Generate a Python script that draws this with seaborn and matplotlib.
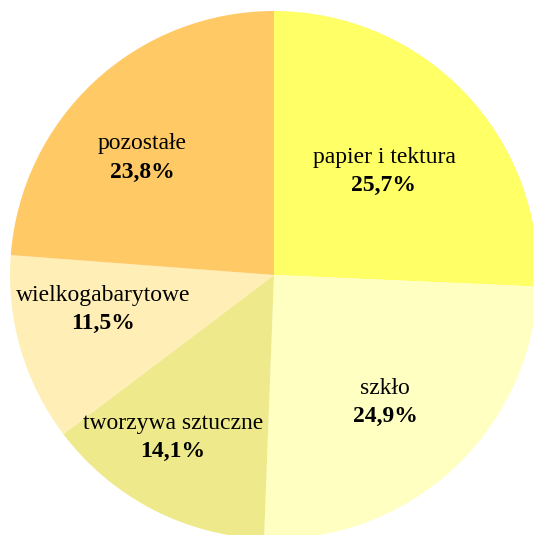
import matplotlib
matplotlib.use("Agg")
import matplotlib.pyplot as plt
import seaborn as sns

categories = ["papier i tektura", "szkło", "tworzywa sztuczne", "wielkogabarytowe", "pozostałe"]
shares = [25.7, 24.9, 14.1, 11.5, 23.8]
pct_labels = ["25,7%", "24,9%", "14,1%", "11,5%", "23,8%"]

colors = ["#FFFF66", "#FFFFC2", "#EEEA8C", "#FFEEB5", "#FFCA66"]
# label anchor (pixels from top-left) for name line
label_pos = [(384, 157), (385, 388), (173, 423), (103, 295), (142, 144)]

sns.set_style("white")
plt.rcParams["font.family"] = "serif"
plt.rcParams["font.serif"] = ["Liberation Serif", "DejaVu Serif"]
plt.rcParams["text.color"] = "black"

W, H = 533, 535
fig = plt.figure(figsize=(W / 100, H / 100), dpi=100)
ax = fig.add_axes([0, 0, 1, 1])
ax.pie(shares, colors=colors, startangle=90, counterclock=False,
       radius=264, center=(274, H - 275),
       wedgeprops=dict(linewidth=0))
ax.set_xlim(0, W)
ax.set_ylim(0, H)
ax.set_aspect("equal")
ax.axis("off")

for name, pct, (x, y) in zip(categories, pct_labels, label_pos):
    ax.text(x, H - y, name, ha="center", va="center", fontsize=17,
            family="Liberation Serif", color="black")
    ax.text(x, H - y - 28, pct, ha="center", va="center", fontsize=17,
            family="Liberation Serif", fontweight="bold", color="black")

fig.savefig("out.png", dpi=100)
